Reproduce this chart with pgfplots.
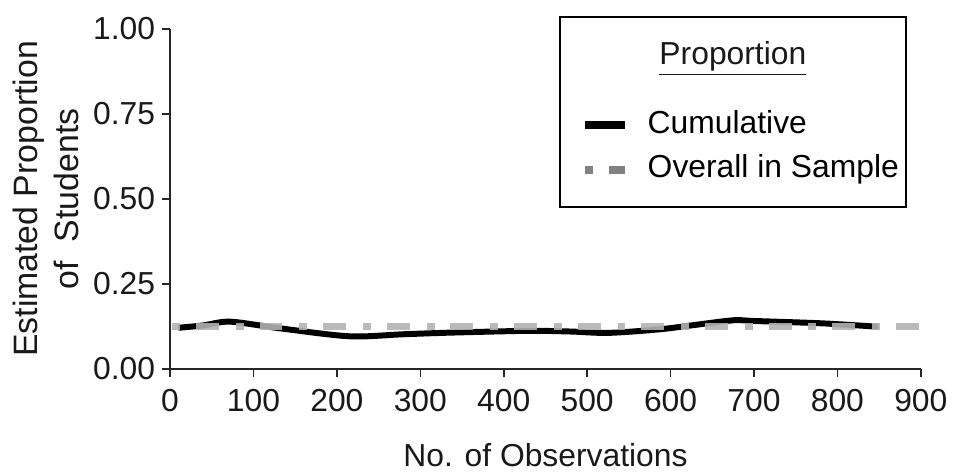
\documentclass[border=0pt]{standalone}
\usepackage{fontspec}
\setmainfont{Liberation Sans}
\usepackage{pgfplots}
\pgfplotsset{compat=1.18}
\begin{document}
\begin{tikzpicture}
\begin{axis}[
  scale only axis, width=377.5pt, height=171pt,
  xmin=0, xmax=900, ymin=0, ymax=1,
  clip=false,
  axis lines*=left,
  axis line style={line width=0.8pt, color=black!85},
  xtick={0,100,...,900}, ytick={0,0.25,0.5,0.75,1},
  tick align=outside, major tick length=4pt,
  tick style={line width=0.8pt, color=black!85},
  yticklabel style={/pgf/number format/.cd, fixed, fixed zerofill, precision=2},
  xticklabel style={yshift=-2.5pt},
  /pgf/number format/assume math mode=true,
  ticklabel style={font=\fontsize{16}{19.2}\selectfont, color=black!90},
  label style={font=\fontsize{16}{19.2}\selectfont, color=black!90},
  xlabel={No. of Observations},
  xlabel style={at={(axis description cs:0.5,-0.252)}, anchor=center},
  ylabel={Estimated Proportion\\of\ \ Students},
  ylabel style={align=center, font=\fontsize{17}{20.5}\selectfont, at={(axis description cs:-0.165,0.5)}, anchor=center},
  legend style={draw=none, fill=none, inner sep=0pt,
    at={(axis description cs:0.547,0.6506)}, anchor=west,
    font=\fontsize{16}{19.2}\selectfont,
    nodes={text height=11.5pt, text depth=3.5pt, inner sep=0pt},
    row sep=7.5pt,
    /tikz/every odd column/.append style={column sep=9.5pt}},
  legend cell align=left,
  legend image code/.code={\draw[#1] (0pt,0pt) -- (20pt,0pt);},
]
\addplot[black, line width=3pt, smooth, tension=0.5, forget plot] coordinates {
  (10,0.121) (40,0.128) (72,0.139) (130,0.120) (215,0.096) (280,0.102)
  (340,0.107) (430,0.112) (480,0.110) (525,0.106) (585,0.116) (625,0.128)
  (675,0.143) (700,0.141) (782,0.134) (849,0.124)
};
\addplot[black!30, opacity=0.9, line width=3.8pt, dash pattern=on 4pt off 8pt on 11.5pt off 8.5pt, dash phase=31pt, forget plot] coordinates {
  (0,0.125) (900,0.125)
};
\addlegendimage{black, line width=4pt}
\addlegendentry{Cumulative}
\addlegendimage{black!50, line width=3.8pt, dash pattern=on 4pt off 8pt on 8pt}
\addlegendentry{Overall in Sample}
\draw[line width=1.1pt] (axis description cs:0.519,0.4766) rectangle (axis description cs:0.980,1.035);
\node[anchor=base, font=\fontsize{16}{19.2}\selectfont, color=black!90] at (axis description cs:0.7497,0.8947) {\underline{Proportion}};
\end{axis}
\path[use as bounding box] (-85.5pt,-51.5pt) rectangle (391.5pt,185.5pt);
\end{tikzpicture}
\end{document}
